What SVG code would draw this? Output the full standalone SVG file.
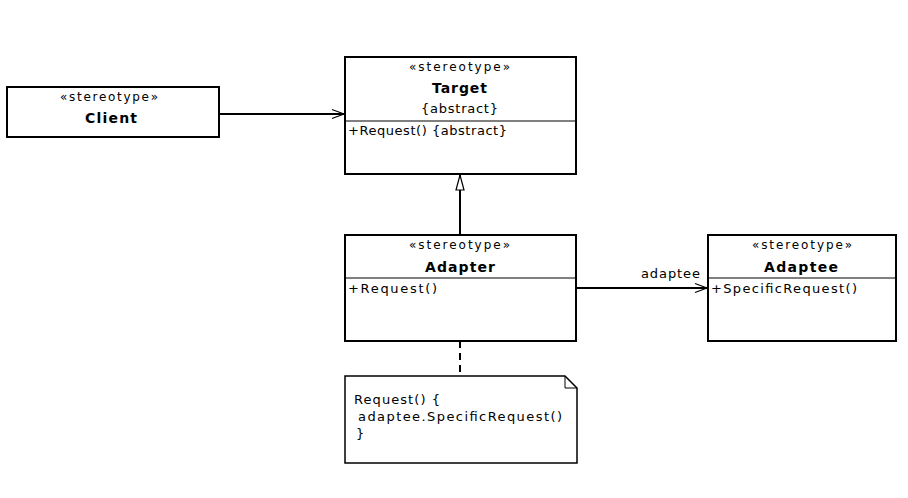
<svg xmlns="http://www.w3.org/2000/svg" width="908" height="498" viewBox="0 0 908 498">
<defs>
<style>
.box{fill:#fff;stroke:#000;stroke-width:2}
.div{stroke:#000;stroke-width:1.2}
.st{font-family:"DejaVu Sans","Liberation Sans",Arial,sans-serif;font-size:12px}
.nm{font-family:"DejaVu Sans","Liberation Sans",Arial,sans-serif;font-size:14px;font-weight:bold}
.tx{font-family:"DejaVu Sans","Liberation Sans",Arial,sans-serif;font-size:13px}
.ln{stroke:#000;stroke-width:2;fill:none}
</style>
<marker id="open" markerWidth="14" markerHeight="12" refX="13" refY="6" orient="auto" markerUnits="userSpaceOnUse">
<path d="M1,1.5 L13,6 L1,10.5" fill="none" stroke="#000" stroke-width="1.2"/>
</marker>
<marker id="tri" markerWidth="18" markerHeight="10" refX="16" refY="5" orient="auto" markerUnits="userSpaceOnUse">
<path d="M1,1 L16,5 L1,9 Z" fill="#fff" stroke="#000" stroke-width="1.2"/>
</marker>
</defs>
<rect width="908" height="498" fill="#fff"/>
<g id="connectors">
<line class="ln" x1="219" y1="114" x2="344" y2="114" marker-end="url(#open)"/>
<line class="ln" x1="460" y1="235" x2="460" y2="175" marker-end="url(#tri)"/>
<line class="ln" x1="576" y1="288" x2="707" y2="288" marker-end="url(#open)"/>
<text class="tx" x="641" y="278" textLength="59" lengthAdjust="spacing">adaptee</text>
<line class="ln" x1="460" y1="341" x2="460" y2="376" stroke-dasharray="7,5"/>
</g>
<g id="client">
<rect class="box" x="7" y="87" width="212" height="50"/>
<text class="st" x="60" y="101" textLength="98" lengthAdjust="spacing">«stereotype»</text>
<text class="nm" x="85" y="123" textLength="52" lengthAdjust="spacing">Client</text>
</g>
<g id="target">
<rect class="box" x="345" y="57" width="231" height="117"/>
<line class="div" x1="345" y1="121" x2="576" y2="121"/>
<text class="st" x="409" y="71" textLength="101" lengthAdjust="spacing">«stereotype»</text>
<text class="nm" x="432" y="93" textLength="55" lengthAdjust="spacing">Target</text>
<text class="tx" x="421" y="113" textLength="77" lengthAdjust="spacing">{abstract}</text>
<text class="tx" x="348" y="135" textLength="159" lengthAdjust="spacing">+Request() {abstract}</text>
</g>
<g id="adapter">
<rect class="box" x="345" y="235" width="231" height="106"/>
<line class="div" x1="345" y1="278" x2="576" y2="278"/>
<text class="st" x="409" y="249" textLength="101" lengthAdjust="spacing">«stereotype»</text>
<text class="nm" x="425" y="272" textLength="70" lengthAdjust="spacing">Adapter</text>
<text class="tx" x="348" y="293" textLength="89" lengthAdjust="spacing">+Request()</text>
</g>
<g id="adaptee">
<rect class="box" x="708" y="235" width="188" height="106"/>
<line class="div" x1="708" y1="278" x2="896" y2="278"/>
<text class="st" x="752" y="249" textLength="100" lengthAdjust="spacing">«stereotype»</text>
<text class="nm" x="764" y="272" textLength="74" lengthAdjust="spacing">Adaptee</text>
<text class="tx" x="711" y="293" textLength="146" lengthAdjust="spacing">+SpecificRequest()</text>
</g>
<g id="note">
<path d="M345,376 L565,376 L577,388 L577,463 L345,463 Z" fill="#fff" stroke="#000" stroke-width="1.5"/>
<path d="M565,376 L565,388 L577,388" fill="none" stroke="#000" stroke-width="1"/>
<text class="tx" x="354" y="404" textLength="86" lengthAdjust="spacing">Request() {</text>
<text class="tx" x="358" y="421" textLength="204" lengthAdjust="spacing">adaptee.SpecificRequest()</text>
<text class="tx" x="356" y="438">}</text>
</g>
</svg>
